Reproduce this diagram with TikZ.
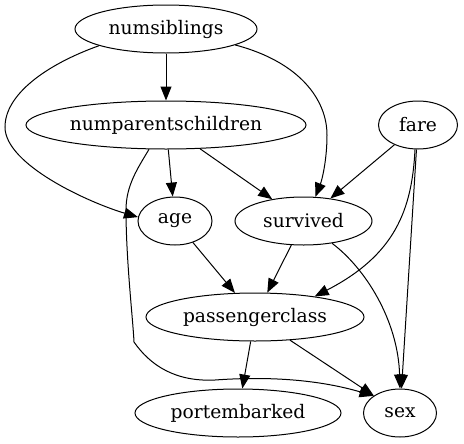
\documentclass[tikz,border=0pt]{standalone}
\usepackage{fontspec}
\setmainfont{DejaVu Serif}
\usetikzlibrary{shapes.geometric,arrows.meta}

\tikzset{every picture/.style={line width=0.75pt}}
\tikzset{
  var/.style={draw, ellipse, inner sep=0pt, minimum height=36pt, minimum width=#1, font=\fontsize{14pt}{16pt}\selectfont},
  edge/.style={-{Triangle[length=10.5pt,width=8.25pt]}}
}

\begin{document}
\begin{tikzpicture}[x=0.75pt,y=0.75pt,yscale=-1,xscale=1]
\useasboundingbox (0,0) rectangle (464,443);

%Shape: Ellipse [numsiblings]
\node[var=136.5pt] (numsiblings) at (166,29) {numsiblings};
%Shape: Ellipse [numparentschildren]
\node[var=210pt] (numparentschildren) at (166,125) {numparentschildren};
%Shape: Ellipse [fare]
\node[var=59.25pt] (fare) at (418,125) {fare};
%Shape: Ellipse [age]
\node[var=55.5pt] (age) at (175,221) {age};
%Shape: Ellipse [survived]
\node[var=102.75pt] (survived) at (303.5,221) {survived};
%Shape: Ellipse [passengerclass]
\node[var=163.5pt] (passengerclass) at (255,317) {passengerclass};
%Shape: Ellipse [portembarked]
\node[var=154.5pt] (portembarked) at (238,413) {portembarked};
%Shape: Ellipse [sex]
\node[var=54.75pt] (sex) at (400,413) {sex};

%Straight Lines
\draw[edge] (numsiblings) -- (numparentschildren);
\draw[edge] (numparentschildren) -- (age);
\draw[edge] (numparentschildren) -- (survived);
\draw[edge] (fare) -- (survived);
\draw[edge] (fare) -- (sex);
\draw[edge] (age) -- (passengerclass);
\draw[edge] (survived) -- (passengerclass);
\draw[edge] (passengerclass) -- (portembarked);
\draw[edge] (passengerclass) -- (sex);

%Curve Lines
\draw[edge] (numsiblings.194) .. controls (45,65) and (5,95) .. (5,127) .. controls (5,165) and (90,203) .. (age.174);
\draw[edge] (numsiblings.347) .. controls (300,62) and (327,100) .. (327,135) .. controls (327,160) and (322,180) .. (survived.64);
\draw[edge] (numparentschildren.235) .. controls (138,168) and (126,185) .. (126,210) .. controls (126,260) and (133,320) .. (134,342) .. controls (150,365) and (175,382) .. (215,380) .. controls (270,376) and (320,380) .. (sex.147);
\draw[edge] (fare.263) .. controls (412,210) and (395,255) .. (passengerclass.19);
\draw[edge] (survived.322) .. controls (365,268) and (398,320) .. (sex.north);

\end{tikzpicture}
\end{document}
